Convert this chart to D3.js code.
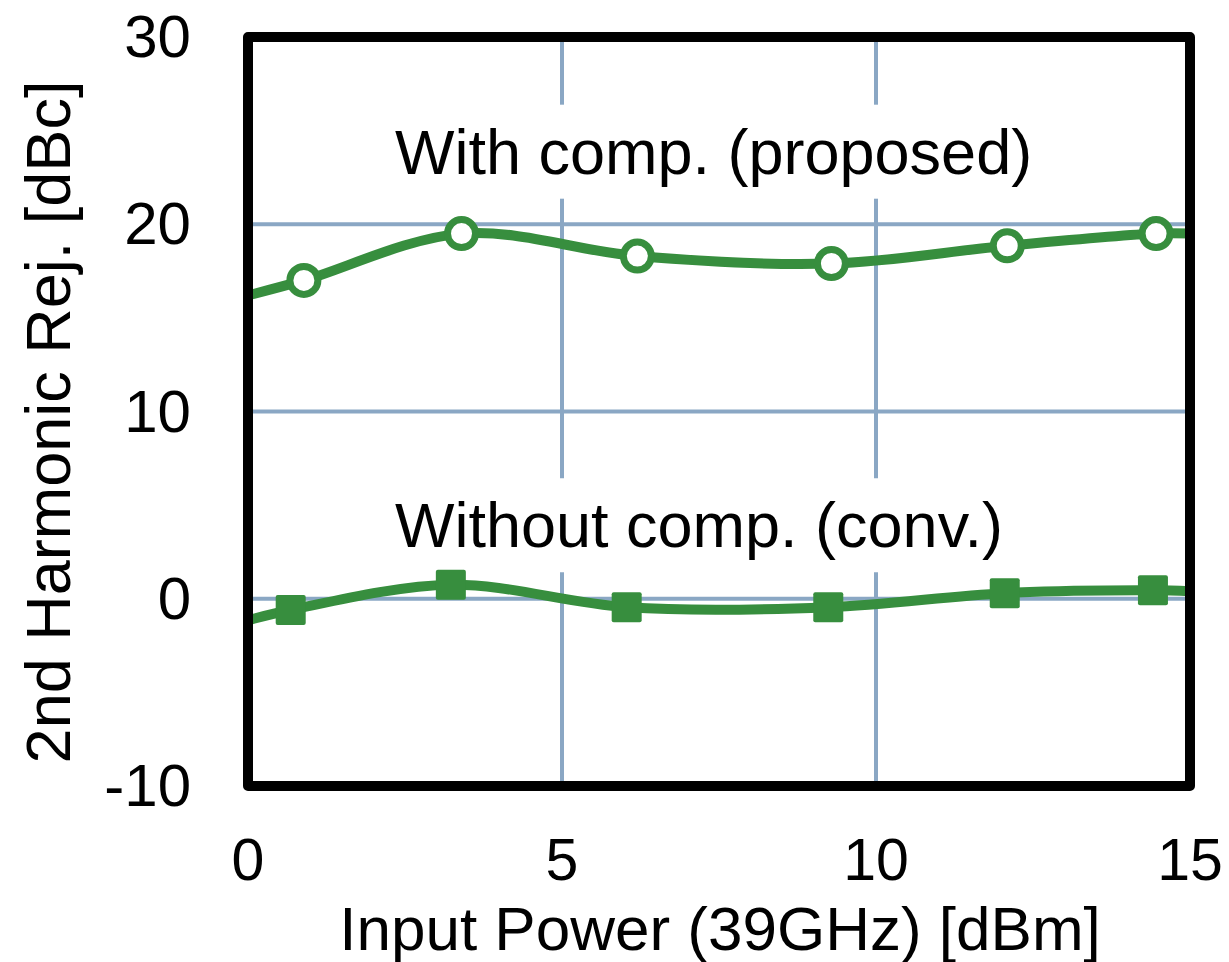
<!DOCTYPE html>
<html>
<head>
<meta charset="utf-8">
<script src="https://cdn.jsdelivr.net/npm/d3@7"></script>
<style>
  body { margin: 0; background: #fff; }
  text { font-family: "Liberation Sans", Arial, sans-serif; fill: #000; }
</style>
</head>
<body>
<svg id="chart" width="1229" height="962"></svg>
<script>
// input power [dBm] at each measured point
const withX = [0.89, 3.40, 6.20, 9.29, 12.09, 14.46];
const withY = [17.0, 19.5, 18.3, 17.9, 18.85, 19.5];
const withoutX = [0.68, 3.23, 6.03, 9.24, 12.05, 14.41];
const withoutY = [-0.6, 0.75, -0.45, -0.45, 0.3, 0.45];
// where the smoothed curves leave the plot at x = 0 and x = 15
const withEnds = [16.2, 19.5];
const withoutEnds = [-1.15, 0.4];

const xTicks = [0, 5, 10, 15];
const yTicks = [-10, 0, 10, 20, 30];
const labels = [
    { text: 'With comp. (proposed)', x: 2.34, y: 22.7 },
    { text: 'Without comp. (conv.)', x: 2.34, y: 2.75 }
];

const green = '#378e3e', gridColor = '#8aa7c4';
const margin = { left: 248, right: 39, top: 37, bottom: 176 };
const W = 1229, H = 962;

const x = d3.scaleLinear().domain([0, 15]).range([margin.left, W - margin.right]);
const y = d3.scaleLinear().domain([-10, 30]).range([H - margin.bottom, margin.top]);

const svg = d3.select('#chart');

svg.append('clipPath').attr('id', 'plot-clip')
    .append('rect')
    .attr('x', x(0)).attr('y', y(30))
    .attr('width', x(15) - x(0)).attr('height', y(-10) - y(30));

// grid
svg.append('g')
    .selectAll('line')
    .data(yTicks.slice(1, -1))
    .enter()
    .append('line')
    .attr('x1', x(0)).attr('x2', x(15))
    .attr('y1', d => y(d)).attr('y2', d => y(d))
    .attr('stroke', gridColor).attr('stroke-width', 4);
svg.append('g')
    .selectAll('line')
    .data(xTicks.slice(1, -1))
    .enter()
    .append('line')
    .attr('y1', y(30)).attr('y2', y(-10))
    .attr('x1', d => x(d)).attr('x2', d => x(d))
    .attr('stroke', gridColor).attr('stroke-width', 4);

// series labels on white boxes
const lab = svg.append('g').selectAll('g')
    .data(labels)
    .enter()
    .append('g');
lab.append('text')
    .attr('x', d => x(d.x))
    .attr('y', d => y(d.y))
    .attr('font-size', 63)
    .text(d => d.text);
lab.each(function () {
    const g = d3.select(this);
    const b = g.select('text').node().getBBox();
    g.insert('rect', 'text')
        .attr('x', b.x - 8).attr('y', b.y - 12)
        .attr('width', b.width + 16).attr('height', b.height + 24)
        .attr('fill', '#fff');
});

// smoothed lines
const line = d3.line()
    .x(d => x(d[0]))
    .y(d => y(d[1]))
    .curve(d3.curveCatmullRom.alpha(0.5));

const withPts = withX.map((v, i) => [v, withY[i]]);
const withoutPts = withoutX.map((v, i) => [v, withoutY[i]]);

const lines = svg.append('g').attr('clip-path', 'url(#plot-clip)');
[[withPts, withEnds], [withoutPts, withoutEnds]].forEach(([pts, ends]) => {
    lines.append('path')
        .datum([[0, ends[0]], ...pts, [15, ends[1]]])
        .attr('d', line)
        .attr('fill', 'none')
        .attr('stroke', green)
        .attr('stroke-width', 10)
        .attr('stroke-linecap', 'butt');
});

// markers
svg.append('g')
    .selectAll('circle')
    .data(withPts)
    .enter()
    .append('circle')
    .attr('cx', d => x(d[0]))
    .attr('cy', d => y(d[1]))
    .attr('r', 14)
    .attr('fill', '#fff')
    .attr('stroke', green)
    .attr('stroke-width', 7);

const sq = 30;
svg.append('g')
    .selectAll('rect')
    .data(withoutPts)
    .enter()
    .append('rect')
    .attr('x', d => x(d[0]) - sq / 2)
    .attr('y', d => y(d[1]) - sq / 2)
    .attr('width', sq).attr('height', sq)
    .attr('rx', 2)
    .attr('fill', green);

// frame
svg.append('rect')
    .attr('x', x(0)).attr('y', y(30))
    .attr('width', x(15) - x(0)).attr('height', y(-10) - y(30))
    .attr('fill', 'none')
    .attr('stroke', '#000')
    .attr('stroke-width', 10)
    .attr('stroke-linejoin', 'round');

// tick labels
svg.append('g')
    .selectAll('text')
    .data(yTicks)
    .enter()
    .append('text')
    .attr('x', 191)
    .attr('y', d => y(d) + 20)
    .attr('text-anchor', 'end')
    .attr('font-size', 60)
    .text(d => d);

svg.append('g')
    .selectAll('text')
    .data(xTicks)
    .enter()
    .append('text')
    .attr('x', d => x(d))
    .attr('y', 880)
    .attr('text-anchor', 'middle')
    .attr('font-size', 59)
    .text(d => d);

// axis titles
svg.append('text')
    .attr('x', 720).attr('y', 950)
    .attr('text-anchor', 'middle')
    .attr('font-size', 62)
    .text('Input Power (39GHz) [dBm]');

svg.append('text')
    .attr('transform', 'translate(70, 422) rotate(-90)')
    .attr('text-anchor', 'middle')
    .attr('font-size', 63)
    .text('2nd Harmonic Rej. [dBc]');
</script>
</body>
</html>
